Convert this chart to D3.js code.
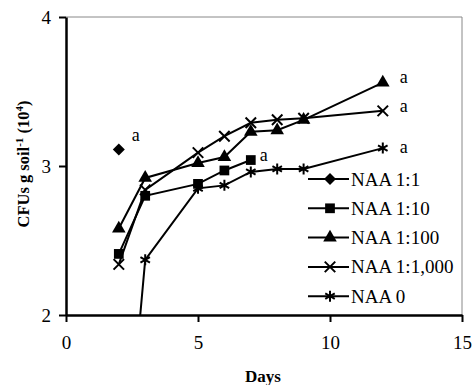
<!DOCTYPE html>
<html>
<head>
<meta charset="utf-8">
<script src="https://cdn.jsdelivr.net/npm/d3@7"></script>
<style>
  body { margin: 0; background: #fff; }
  svg { display: block; }
  text { font-family: "Liberation Serif", "Times New Roman", serif; fill: #000; }
</style>
</head>
<body>
<div class="chart"></div>
<script>
// chart values
var seriesNames = ['NAA 1:1', 'NAA 1:10', 'NAA 1:100', 'NAA 1:1,000', 'NAA 0'];
var daysDiamond = [2];
var valsDiamond = [3.11];
var daysSquare = [2, 3, 5, 6, 7];
var valsSquare = [2.41, 2.80, 2.88, 2.97, 3.04];
var daysTriangle = [2, 3, 5, 6, 7, 8, 9, 12];
var valsTriangle = [2.58, 2.92, 3.02, 3.06, 3.23, 3.24, 3.31, 3.56];
var daysCross = [2, 3, 5, 6, 7, 8, 9, 12];
var valsCross = [2.34, 2.84, 3.09, 3.20, 3.29, 3.31, 3.32, 3.37];
var daysStar = [2, 3, 5, 6, 7, 8, 9, 12];
var valsStar = [0.4, 2.37, 2.85, 2.87, 2.96, 2.98, 2.98, 3.12];
var xTicks = [0, 5, 10, 15];
var yTicks = [2, 3, 4];
// "a" letters: series index, point index
var letterPoints = [[0, 0], [1, 4], [2, 7], [3, 7], [4, 7]];

var width = 472;
var height = 385;

var svg = d3.select('.chart')
            .append('svg')
            .attr('width', width)
            .attr('height', height);

var x = d3.scaleLinear().domain([0, 15]).range([66, 462]);
var y = d3.scaleLinear().domain([2, 4]).range([315, 17]);

// custom symbols: square diamond, x and asterisk
var symDiamond = {
  draw: function(ctx, size) {
    var r = Math.sqrt(size) / 2;
    ctx.moveTo(0, -r); ctx.lineTo(r, 0); ctx.lineTo(0, r); ctx.lineTo(-r, 0); ctx.closePath();
  }
};
var symCross = {
  draw: function(ctx, size) {
    var r = Math.sqrt(size) / 2;
    ctx.moveTo(-r, -r); ctx.lineTo(r, r);
    ctx.moveTo(-r, r); ctx.lineTo(r, -r);
  }
};
var symStar = {
  draw: function(ctx, size) {
    var r = Math.sqrt(size) / 2;
    var t = r / 2, u = t * Math.sqrt(3);
    ctx.moveTo(0, r); ctx.lineTo(0, -r);
    ctx.moveTo(-u, -t); ctx.lineTo(u, t);
    ctx.moveTo(-u, t); ctx.lineTo(u, -t);
  }
};

var series = [
  { name: seriesNames[0], days: daysDiamond, vals: valsDiamond, type: symDiamond, size: 144, stroke: false },
  { name: seriesNames[1], days: daysSquare, vals: valsSquare, type: d3.symbolSquare, size: 95, stroke: false },
  { name: seriesNames[2], days: daysTriangle, vals: valsTriangle, type: d3.symbolTriangle, size: 80, stroke: false },
  { name: seriesNames[3], days: daysCross, vals: valsCross, type: symCross, size: 110, stroke: true },
  { name: seriesNames[4], days: daysStar, vals: valsStar, type: symStar, size: 121, stroke: true }
];

// plot frame (thin grey top / right)
svg.append('path')
   .attr('d', 'M' + x(0) + ',' + y(4) + 'H' + x(15) + 'V' + y(2))
   .attr('fill', 'none')
   .attr('stroke', '#888')
   .attr('stroke-width', 1);

svg.append('clipPath')
   .attr('id', 'plotclip')
   .append('rect')
   .attr('x', x(0))
   .attr('y', y(4))
   .attr('width', x(15) - x(0))
   .attr('height', y(2) - y(4));

var line = d3.line()
             .x(function(d) { return x(d[0]); })
             .y(function(d) { return y(d[1]); });

var plot = svg.append('g').attr('clip-path', 'url(#plotclip)');

series.forEach(function(s) {
  var pts = s.days.map(function(d, i) { return [d, s.vals[i]]; });
  s.pts = pts;
  plot.append('path')
      .datum(pts)
      .attr('d', line)
      .attr('fill', 'none')
      .attr('stroke', '#000')
      .attr('stroke-width', 2);
});

series.forEach(function(s) {
  plot.selectAll(null)
      .data(s.pts)
      .enter()
      .append('path')
      .attr('transform', function(d) { return 'translate(' + x(d[0]) + ',' + y(d[1]) + ')'; })
      .attr('d', d3.symbol().type(s.type).size(s.size))
      .attr('fill', s.stroke ? 'none' : '#000')
      .attr('stroke', '#000')
      .attr('stroke-width', s.stroke ? 2 : 0);
});

// "a" letters, offset from their point
var letterOffsets = [[13, -9], [9, 1], [17, 0], [17, 1], [17, 5]];
letterPoints.forEach(function(lp, i) {
  var p = series[lp[0]].pts[lp[1]];
  svg.append('text')
     .attr('x', x(p[0]) + letterOffsets[i][0])
     .attr('y', y(p[1]) + letterOffsets[i][1])
     .attr('font-size', 18)
     .text('a');
});

// axes
var xAxis = d3.axisBottom(x).tickValues(xTicks).tickFormat(d3.format('d'))
              .tickSize(7).tickPadding(14).tickSizeOuter(0);
var yAxis = d3.axisLeft(y).tickValues(yTicks).tickFormat(d3.format('d'))
              .tickSize(7).tickPadding(8).tickSizeOuter(0);

var gx = svg.append('g').attr('transform', 'translate(0,' + y(2) + ')').call(xAxis);
var gy = svg.append('g').attr('transform', 'translate(' + x(0) + ',0)').call(yAxis);

[gx, gy].forEach(function(g) {
  g.select('.domain').attr('stroke', '#000').attr('stroke-width', 2.5);
  g.selectAll('.tick line').attr('stroke', '#000').attr('stroke-width', 2);
  g.selectAll('.tick text')
   .attr('font-family', '"Liberation Serif", serif')
   .attr('font-size', 19)
   .attr('fill', '#000');
});

// axis titles
svg.append('text')
   .attr('x', 263)
   .attr('y', 382)
   .attr('text-anchor', 'middle')
   .attr('font-weight', 'bold')
   .attr('font-size', 17)
   .text('Days');

var yTitle = svg.append('text')
   .attr('transform', 'translate(29,164) rotate(-90)')
   .attr('text-anchor', 'middle')
   .attr('font-weight', 'bold')
   .attr('font-size', 16.5);
yTitle.append('tspan').text('CFUs g soil');
yTitle.append('tspan').attr('dy', -6).attr('font-size', 11).text('-1');
yTitle.append('tspan').attr('dy', 6).text(' (10');
yTitle.append('tspan').attr('dy', -6).attr('font-size', 11).text('4');
yTitle.append('tspan').attr('dy', 6).text(')');

// legend
var legend = svg.append('g');
series.forEach(function(s, i) {
  var ly = 179 + i * 29.3;
  legend.append('line')
        .attr('x1', 308).attr('x2', 349)
        .attr('y1', ly).attr('y2', ly)
        .attr('stroke', '#000').attr('stroke-width', 2);
  legend.append('path')
        .attr('transform', 'translate(330,' + ly + ')')
        .attr('d', d3.symbol().type(s.type).size(s.size))
        .attr('fill', s.stroke ? 'none' : '#000')
        .attr('stroke', '#000')
        .attr('stroke-width', s.stroke ? 2 : 0);
  legend.append('text')
        .attr('x', 351)
        .attr('y', ly + 6.5)
        .attr('font-size', 19)
        .text(s.name);
});
</script>
</body>
</html>
